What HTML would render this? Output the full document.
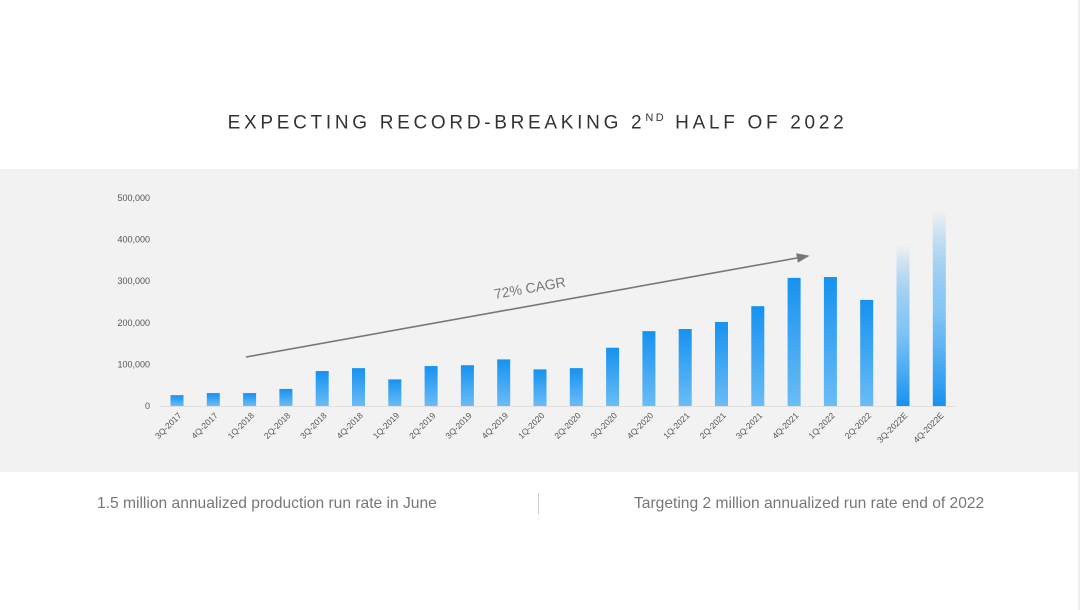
<!DOCTYPE html>
<html><head><meta charset="utf-8"><style>
body{margin:0;width:1080px;height:610px;background:#fff;font-family:"Liberation Sans",sans-serif;overflow:hidden;position:relative}
#title{position:absolute;top:112px;left:0;width:1075px;text-align:center;font-size:19px;letter-spacing:3.7px;color:#333}
#title sup{font-size:11px;letter-spacing:2.5px}
#band{position:absolute;top:169px;left:0;width:1080px;height:303px;background:#f2f2f2}
.note{position:absolute;top:495px;font-size:15.6px;color:#777}
</style></head><body>
<div id="title">EXPECTING RECORD-BREAKING 2<sup>ND</sup> HALF OF 2022</div>
<div id="band"></div>
<svg id="chart" width="1080" height="610" style="position:absolute;left:0;top:0">
<defs>
<linearGradient id="g" x1="0" y1="0" x2="0" y2="1"><stop offset="0" stop-color="#1592f0"/><stop offset="1" stop-color="#6bbcf6"/></linearGradient>
<linearGradient id="ge" x1="0" y1="0" x2="0" y2="1"><stop offset="0" stop-color="#1592f0" stop-opacity="0"/><stop offset="0.5" stop-color="#6bbcf6" stop-opacity="0.8"/><stop offset="1" stop-color="#1592f0"/></linearGradient>
<marker id="ah" markerWidth="8" markerHeight="6" refX="7" refY="3" orient="auto"><path d="M0,0 L8,3 L0,6 z" fill="#777"/></marker>
</defs>
</svg>
<div class="note" style="left:97px">1.5 million annualized production run rate in June</div>
<div style="position:absolute;left:538px;top:493px;width:1px;height:21px;background:#ccc"></div>
<div class="note" style="left:634px">Targeting 2 million annualized run rate end of 2022</div>
<div style="position:absolute;left:1078px;top:0;width:2px;height:610px;background:#eee"></div>
<script>
const categories=["3Q-2017","4Q-2017","1Q-2018","2Q-2018","3Q-2018","4Q-2018","1Q-2019","2Q-2019","3Q-2019","4Q-2019","1Q-2020","2Q-2020","3Q-2020","4Q-2020","1Q-2021","2Q-2021","3Q-2021","4Q-2021","1Q-2022","2Q-2022","3Q-2022E","4Q-2022E"];
const values=[26000,31000,31000,41000,84000,91000,64000,96000,98000,112000,88000,91000,140000,180000,185000,202000,240000,308000,310000,255000,387000,470000];
const estimated=[false,false,false,false,false,false,false,false,false,false,false,false,false,false,false,false,false,false,false,false,true,true];
const yTicks=[0,100000,200000,300000,400000,500000];
const yTickLabels=["0","100,000","200,000","300,000","400,000","500,000"];
const svg=document.getElementById('chart');const NS='http://www.w3.org/2000/svg';
const y=v=>406-v*(208/500000);
const x=i=>177+i*36.3;
function mk(t,a){const e=document.createElementNS(NS,t);for(const k in a)e.setAttribute(k,a[k]);svg.appendChild(e);return e;}
const ax=mk('line',{x1:160,x2:955,y1:406.5,y2:406.5,stroke:'#e0e0e0','stroke-width':1});


yTicks.forEach((t,i)=>{const e=mk('text',{x:150,y:y(t)+3,'text-anchor':'end','font-size':9,fill:'#555'});e.textContent=yTickLabels[i];

});
categories.forEach((c,i)=>{const top=y(values[i]);
const r=mk('rect',{x:x(i)-6.5,y:top,width:13,height:406-top,fill:estimated[i]?'url(#ge)':'url(#g)'});


const t=mk('text',{x:0,y:0,'text-anchor':'end','font-size':8.5,fill:'#555',transform:`translate(${x(i)+5},${416}) rotate(-45)`});t.textContent=c;

});
const ar=mk('line',{x1:246,y1:357,x2:808,y2:256,stroke:'#777','stroke-width':1.6,'marker-end':'url(#ah)'});


const ct=mk('text',{x:0,y:0,'font-size':14,fill:'#777',transform:'translate(495,299) rotate(-10)'});ct.textContent='72% CAGR';


</script>
</body></html>
